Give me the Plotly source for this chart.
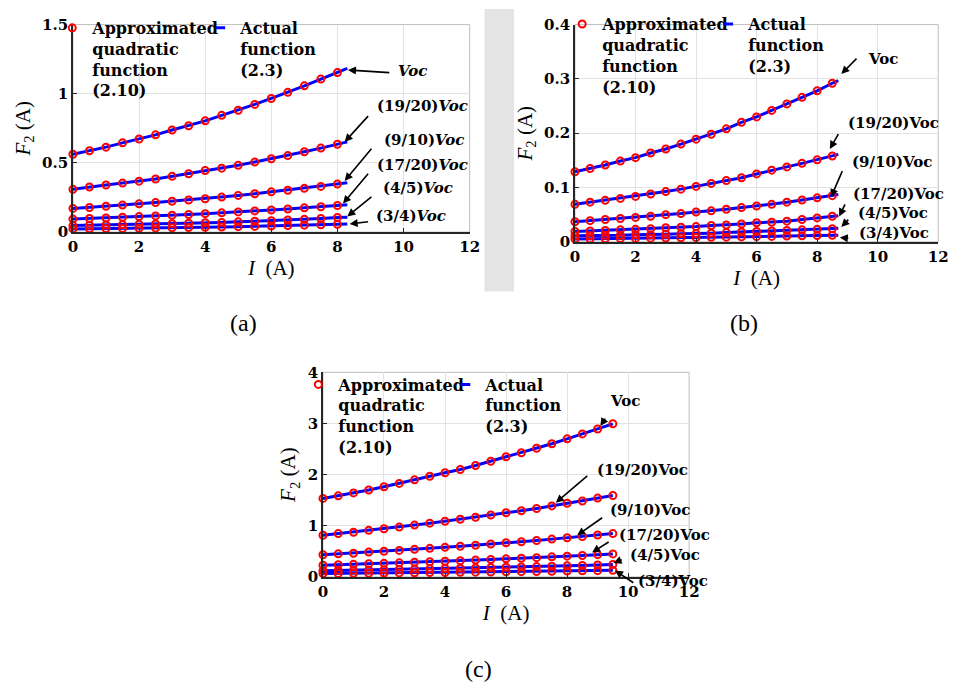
import plotly.graph_objects as go

W, H = 961, 696

# ---------------- data ----------------
# panel (a)
I_A = [0, 0.5, 1, 1.5, 2, 2.5, 3, 3.5, 4, 4.5, 5, 5.5, 6, 6.5, 7, 7.5, 8]
I_A_END = 8.3
VOC_A = [0.563, 0.588, 0.614, 0.645, 0.673, 0.703, 0.738, 0.769, 0.804, 0.844, 0.881, 0.923, 0.966, 1.010, 1.057, 1.106, 1.153]
R1920_A = [0.309, 0.326, 0.340, 0.354, 0.368, 0.384, 0.403, 0.422, 0.445, 0.462, 0.483, 0.506, 0.530, 0.553, 0.581, 0.607, 0.635]
R910_A = [0.171, 0.178, 0.187, 0.195, 0.204, 0.213, 0.223, 0.232, 0.241, 0.253, 0.265, 0.277, 0.291, 0.302, 0.316, 0.330, 0.347]
R1720_A = [0.094, 0.098, 0.102, 0.107, 0.112, 0.117, 0.122, 0.127, 0.133, 0.139, 0.146, 0.153, 0.160, 0.167, 0.175, 0.183, 0.192]
R45_A = [0.047, 0.049, 0.051, 0.053, 0.056, 0.058, 0.061, 0.064, 0.067, 0.070, 0.074, 0.078, 0.082, 0.087, 0.092, 0.098, 0.105]
R34_A = [0.023, 0.024, 0.025, 0.026, 0.028, 0.029, 0.031, 0.033, 0.035, 0.037, 0.039, 0.041, 0.044, 0.047, 0.050, 0.053, 0.056]
ENDS_A = [1.183, 0.652, 0.356, 0.197, 0.108, 0.058]

# panel (b)
I_B = [0, 0.5, 1, 1.5, 2, 2.5, 3, 3.5, 4, 4.5, 5, 5.5, 6, 6.5, 7, 7.5, 8, 8.5]
I_B_END = 8.7
VOC_B = [0.129, 0.135, 0.1415, 0.1487, 0.155, 0.1636, 0.171, 0.180, 0.189, 0.198, 0.208, 0.220, 0.230, 0.242, 0.254, 0.266, 0.278, 0.292]
R1920_B = [0.069, 0.073, 0.0764, 0.080, 0.0836, 0.088, 0.0925, 0.097, 0.102, 0.1075, 0.113, 0.118, 0.125, 0.132, 0.138, 0.1445, 0.151, 0.158]
R910_B = [0.037, 0.039, 0.041, 0.043, 0.045, 0.047, 0.050, 0.052, 0.055, 0.057, 0.060, 0.063, 0.066, 0.069, 0.073, 0.077, 0.081, 0.085]
R1720_B = [0.019, 0.020, 0.021, 0.022, 0.023, 0.024, 0.026, 0.027, 0.028, 0.030, 0.031, 0.033, 0.035, 0.036, 0.038, 0.041, 0.044, 0.047]
R45_B = [0.011, 0.011, 0.012, 0.012, 0.013, 0.013, 0.014, 0.015, 0.015, 0.016, 0.017, 0.018, 0.019, 0.020, 0.021, 0.022, 0.023, 0.024]
R34_B = [0.005, 0.0053, 0.0056, 0.006, 0.0063, 0.0067, 0.007, 0.0074, 0.0078, 0.0082, 0.0086, 0.009, 0.0095, 0.010, 0.0105, 0.011, 0.0115, 0.012]
ENDS_B = [0.297, 0.161, 0.087, 0.048, 0.025, 0.0122]

# panel (c)
I_C = [0, 0.5, 1, 1.5, 2, 2.5, 3, 3.5, 4, 4.5, 5, 5.5, 6, 6.5, 7, 7.5, 8, 8.5, 9, 9.5]
VOC_C = [1.535, 1.586, 1.643, 1.70, 1.764, 1.828, 1.898, 1.968, 2.038, 2.10, 2.178, 2.261, 2.35, 2.427, 2.516, 2.605, 2.70, 2.796, 2.892, 2.994]
R1920_C = [0.815, 0.847, 0.873, 0.911, 0.943, 0.975, 1.013, 1.051, 1.089, 1.128, 1.166, 1.21, 1.255, 1.293, 1.338, 1.389, 1.44, 1.484, 1.542, 1.593]
R910_C = [0.434, 0.451, 0.464, 0.485, 0.502, 0.519, 0.539, 0.559, 0.579, 0.600, 0.620, 0.644, 0.668, 0.688, 0.712, 0.739, 0.766, 0.789, 0.820, 0.847]
R1720_C = [0.230, 0.239, 0.246, 0.257, 0.266, 0.275, 0.286, 0.296, 0.307, 0.318, 0.329, 0.341, 0.354, 0.365, 0.377, 0.392, 0.406, 0.418, 0.435, 0.450]
R45_C = [0.123, 0.128, 0.132, 0.137, 0.142, 0.147, 0.153, 0.158, 0.164, 0.170, 0.176, 0.182, 0.189, 0.195, 0.202, 0.210, 0.217, 0.224, 0.233, 0.242]
R34_C = [0.065, 0.068, 0.070, 0.073, 0.075, 0.078, 0.081, 0.084, 0.087, 0.090, 0.093, 0.097, 0.100, 0.103, 0.107, 0.111, 0.115, 0.119, 0.123, 0.128]

CURVE_LABELS = ["Voc", "(19/20)Voc", "(9/10)Voc", "(17/20)Voc", "(4/5)Voc", "(3/4)Voc"]
Y_RANGES = [1.5, 0.4, 4]
Y_TICKS = [[0, 0.5, 1, 1.5], [0, 0.1, 0.2, 0.3, 0.4], [0, 1, 2, 3, 4]]
Y_TICKTEXT = [["0", "0.5", "1", "1.5"], ["0", "0.1", "0.2", "0.3", "0.4"], ["0", "1", "2", "3", "4"]]
X_TICKS = [0, 2, 4, 6, 8, 10, 12]
X_TICKTEXT = ["0", "2", "4", "6", "8", "10", "12"]

LEG_MARK = "Approximated<br>quadratic<br>function<br>(2.10)"
LEG_LINE = "Actual<br>function<br>(2.3)"

# ---------------- styling / layout ----------------
BLUE = "rgb(0,0,255)"
RED = "rgb(255,0,0)"
BOLD_SERIF = "DejaVu Serif"
SERIF = "Liberation Serif"

# plot areas in pixels: (left, right, top, bottom)
AREAS = [(69, 472, 16, 229), (579, 948, 16, 239), (323, 695, 373, 583)]


def fx(p):
    return p / W


def fy(p):
    return 1 - p / H


def bold(s):
    return "<b>" + s + "</b>"


panels = [
    dict(I=I_A, iend=I_A_END, ys=[VOC_A, R1920_A, R910_A, R1720_A, R45_A, R34_A], ends=ENDS_A),
    dict(I=I_B, iend=I_B_END, ys=[VOC_B, R1920_B, R910_B, R1720_B, R45_B, R34_B], ends=ENDS_B),
    dict(I=I_C, iend=None, ys=[VOC_C, R1920_C, R910_C, R1720_C, R45_C, R34_C], ends=None),
]

fig = go.Figure()
legends = ["legend", "legend2", "legend3"]

for k, p in enumerate(panels):
    xa = "x" if k == 0 else f"x{k+1}"
    ya = "y" if k == 0 else f"y{k+1}"
    for j, yv in enumerate(p["ys"]):
        xl = list(p["I"]) + ([p["iend"]] if p["iend"] is not None else [])
        yl = list(yv) + ([p["ends"][j]] if p["ends"] is not None else [])
        fig.add_trace(go.Scatter(
            x=xl, y=yl, mode="lines", xaxis=xa, yaxis=ya,
            line=dict(color=BLUE, width=3),
            name=bold(LEG_LINE), legendgroup=f"line{k}", showlegend=False, hoverinfo="skip"))
    for j, yv in enumerate(p["ys"]):
        fig.add_trace(go.Scatter(
            x=p["I"], y=yv, mode="markers", xaxis=xa, yaxis=ya,
            marker=dict(symbol="circle-open", color=RED, size=7, line=dict(width=2, color=RED)),
            name=bold(LEG_MARK), legend=legends[k], legendrank=1,
            showlegend=(j == 0), cliponaxis=False))
    # legend key for the actual-function lines (short dash, as in the reference)
    fig.add_trace(go.Scatter(
        x=[None], y=[None], mode="markers", xaxis=xa, yaxis=ya,
        marker=dict(symbol="line-ew-open", color=BLUE, size=7, line=dict(width=3, color=BLUE)),
        name=bold(LEG_LINE), legend=legends[k], legendrank=2, legendgroup=f"line{k}",
        showlegend=True))

FONT_TICK = dict(family=BOLD_SERIF, size=15, color="black")
FONT_LEG = dict(family=BOLD_SERIF, size=16, color="black")
FONT_LAB = dict(family=BOLD_SERIF, size=15, color="black")
FONT_TITLE = dict(family=SERIF, size=21, color="black")

layout = dict(
    width=W, height=H, margin=dict(l=0, r=0, t=0, b=0),
    paper_bgcolor="white", plot_bgcolor="white",
    showlegend=True,
)

for k, (l, r, t, b) in enumerate(AREAS):
    sx = "xaxis" if k == 0 else f"xaxis{k+1}"
    sy = "yaxis" if k == 0 else f"yaxis{k+1}"
    xa = "x" if k == 0 else f"x{k+1}"
    ya = "y" if k == 0 else f"y{k+1}"
    layout[sx] = dict(
        domain=[fx(l), fx(r)], anchor=ya, range=[0, 12],
        tickvals=X_TICKS, ticktext=[bold(t_) for t_ in X_TICKTEXT],
        showgrid=True, gridcolor="#e3e3e3", gridwidth=1, zeroline=False,
        showline=True, linecolor="#262626", linewidth=1.5,
        ticks="inside", ticklen=4, tickcolor="#262626",
        tickfont=FONT_TICK,
        title=dict(text="<i>I</i>  (A)", font=FONT_TITLE, standoff=2),
    )
    layout[sy] = dict(
        domain=[fy(b), fy(t)], anchor=xa, range=[0, Y_RANGES[k]],
        tickvals=Y_TICKS[k], ticktext=[bold(t_) for t_ in Y_TICKTEXT[k]],
        showgrid=True, gridcolor="#e3e3e3", gridwidth=1, zeroline=False,
        showline=True, linecolor="#262626", linewidth=1.5,
        ticks="inside", ticklen=4, tickcolor="#262626",
        tickfont=FONT_TICK,
        title=dict(text="<i>F</i><sub>2</sub> (A)", font=FONT_TITLE, standoff=6),
    )

# legend: (left px of legend box, top px, entry width px)
LEG_POS = [(48, 2, 103), (566, -2, 101), (298, 368, 102)]
for k, (lx, ty, ew) in enumerate(LEG_POS):
    layout[legends[k]] = dict(
        x=fx(lx), y=fy(ty), xanchor="left", yanchor="top",
        orientation="h", bgcolor="rgba(0,0,0,0)", borderwidth=0,
        font=FONT_LEG,
        valign="top", entrywidth=ew, entrywidthmode="pixels",
        traceorder="normal", itemclick=False, itemdoubleclick=False,
    )

fig.update_layout(**layout)

shapes = []
shapes.append(dict(type="rect", xref="paper", yref="paper", x0=fx(487), x1=fx(517), y0=fy(290), y1=fy(0),
                   fillcolor="#e4e4e4", line=dict(width=0), layer="below"))
for k, (l, r, t, b) in enumerate(AREAS):
    shapes.append(dict(type="rect", xref="paper", yref="paper", x0=fx(l), x1=fx(r), y0=fy(b), y1=fy(t),
                       line=dict(color="#bdbdbd", width=1), fillcolor="rgba(0,0,0,0)", layer="below"))
fig.update_layout(shapes=shapes)

# arrows: head and tail in data coords; label left/middle position in pixels
ARROWS = [
    [((8.32, 1.172), (9.66, 1.151), (397, 64)),
     ((8.22, 0.652), (9.02, 0.862), (376, 100)),
     ((8.22, 0.370), (9.12, 0.628), (383, 134)),
     ((8.17, 0.206), (9.02, 0.448), (376, 160)),
     ((8.30, 0.1125), (9.12, 0.272), (382, 184)),
     ((8.37, 0.059), (9.02, 0.077), (375, 213))],
    [((8.80, 0.309), (9.40, 0.343), (875, 51)),
     ((8.42, 0.171), (8.80, 0.208), (854, 117)),
     ((8.46, 0.0824), (8.93, 0.143), (858, 157)),
     ((8.73, 0.0466), (9.02, 0.0806), (859, 190)),
     ((8.80, 0.0275), (9.13, 0.0466), (865, 209)),
     ((8.75, 0.0078), (9.13, 0.006), (866, 230))],
    [((9.09, 2.95), (9.35, 3.185), (613, 402)),
     ((7.63, 1.452), (8.76, 2.026), (599, 473)),
     ((8.33, 0.815), (9.25, 1.198), (613, 514)),
     ((8.82, 0.478), (9.46, 0.72), (622, 540)),
     ((9.52, 0.274), (9.89, 0.357), (633, 560)),
     ((9.57, 0.127), (10.27, -0.153), (641, 587))],
]

annotations = []
for k, arr in enumerate(ARROWS):
    xa = "x" if k == 0 else f"x{k+1}"
    ya = "y" if k == 0 else f"y{k+1}"
    for j, (head, tail, lab) in enumerate(arr):
        annotations.append(dict(
            x=head[0], y=head[1], ax=tail[0], ay=tail[1], xref=xa, yref=ya, axref=xa, ayref=ya,
            text=" ", showarrow=True, arrowhead=2, arrowsize=1, arrowwidth=1.6, arrowcolor="black"))
        txt = CURVE_LABELS[j]
        if k == 0:
            txt = txt.replace("Voc", "<i>Voc</i>")
        annotations.append(dict(
            x=fx(lab[0]), y=fy(lab[1]), xref="paper", yref="paper", text=bold(txt), showarrow=False,
            xanchor="left", yanchor="middle", font=FONT_LAB))

for txt, cx, cy in [("(a)", 242, 322), ("(b)", 751, 322), ("(c)", 481, 678)]:
    annotations.append(dict(x=fx(cx), y=fy(cy), xref="paper", yref="paper", text=txt, showarrow=False,
                            xanchor="center", yanchor="middle",
                            font=dict(family=SERIF, size=24, color="black")))

fig.update_layout(annotations=annotations)

fig.write_html("out.html")
